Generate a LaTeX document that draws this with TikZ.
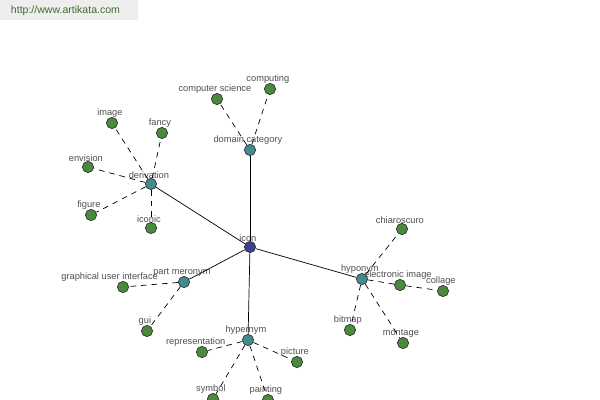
\documentclass[tikz,border=0pt]{standalone}
\usepackage{fontspec}
\setmainfont{Liberation Sans}
\usepackage{tikz}
\definecolor{rootBlue}{HTML}{3C3F8C}
\definecolor{hubTeal}{HTML}{468A8C}
\definecolor{leafGreen}{HTML}{4A8A3C}
\definecolor{txtGray}{HTML}{505050}
\definecolor{markGray}{HTML}{EEEEEE}
\definecolor{markGreen}{HTML}{3E6E2E}

\begin{document}
\begin{tikzpicture}[
  x=0.025cm, y=-0.025cm,
  every node/.style={font=\fontsize{6.6pt}{7pt}\selectfont},
  dot/.style={circle, draw=black!80, line width=0.5pt, minimum size=8pt, inner sep=0pt},
  root/.style={dot, fill=rootBlue},
  hub/.style={dot, fill=hubTeal},
  leaf/.style={dot, fill=leafGreen},
  lbl/.style={text=txtGray, inner sep=0.3pt, xshift=-1.5pt, yshift=-0.8pt},
  every label/.style={lbl},
  link/.style={black, line width=0.5pt},
  weak/.style={black, line width=0.5pt, dash pattern=on 4pt off 3.5pt}
]
\useasboundingbox (0,0) rectangle (600,400);
\fill[white] (0,0) rectangle (600,400);
\fill[markGray] (0,0) rectangle (138,20);
\node[text=markGreen, anchor=west, font=\fontsize{7.5pt}{8pt}\selectfont] (mark) at (6,11) {http://www.artikata.com};

% centre and first ring
\node[root, label=above:icon] (icon) at (250,247) {};
\node[hub, label=above:derivation] (deriv) at (151,184) {};
\node[hub, label=above:domain category] (domain) at (250,150) {};
\node[hub, label=above:part meronym] (meron) at (184,282) {};
\node[hub, label=above:hyponym] (hypo) at (362,279) {};
\node[hub, label=above:hypernym] (hyper) at (248,340) {};

% leaves
\node[leaf, label=above:image] (image) at (112,123) {};
\node[leaf, label=above:fancy] (fancy) at (162,133) {};
\node[leaf, label=above:envision] (envis) at (88,167) {};
\node[leaf, label=above:figure] (figure) at (91,215) {};
\node[leaf, label=above:iconic] (iconic) at (151,228) {};
\node[leaf, label=above:computer science] (compsci) at (217,99) {};
\node[leaf, label=above:computing] (computing) at (270,89) {};
\node[leaf, label={[xshift=-8pt]above:graphical user interface}] (gui1) at (123,287) {};
\node[leaf, label=above:gui] (gui2) at (147,331) {};
\node[leaf, label=above:chiaroscuro] (chiaro) at (402,229) {};
\node[leaf, label=above:electronic image] (eimage) at (400,285) {};
\node[leaf, label=above:collage] (collage) at (443,291) {};
\node[leaf, label=above:bitmap] (bitmap) at (350,330) {};
\node[leaf, label=above:montage] (montage) at (403,343) {};
\node[leaf, label={[xshift=-3pt]above:representation}] (repr) at (202,352) {};
\node[leaf, label=above:picture] (picture) at (297,362) {};
\node[leaf, label=above:symbol] (symbol) at (213,399) {};
\node[leaf, label=above:painting] (painting) at (268,400) {};

% connectors
\foreach \a/\b in {icon/deriv, icon/domain, icon/meron, icon/hypo, icon/hyper}
  \draw[link] (\a) -- (\b);
\foreach \a/\b in {deriv/image, deriv/fancy, deriv/envis, deriv/figure, deriv/iconic,
                   domain/compsci, domain/computing, meron/gui1, meron/gui2,
                   hypo/chiaro, hypo/eimage, eimage/collage, hypo/bitmap, hypo/montage,
                   hyper/repr, hyper/picture, hyper/symbol, hyper/painting}
  \draw[weak] (\a) -- (\b);
\end{tikzpicture}
\end{document}
